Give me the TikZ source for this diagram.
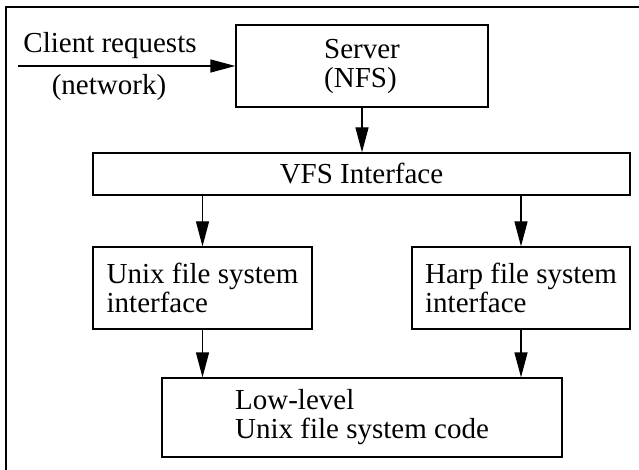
\documentclass[tikz,border=0pt]{standalone}
\usepackage{fontspec}
\setmainfont{Liberation Serif}
\usetikzlibrary{arrows.meta}
\tikzset{
  blk/.style={draw, line width=1.3pt, align=left, inner sep=0pt,
    font=\fontsize{29}{29}\selectfont},
  lbl/.style={anchor=base, inner sep=0pt, font=\fontsize{29}{29}\selectfont},
  flow/.style={line width=1.3pt, -{Triangle[length=25pt,width=13pt]}}
}

\begin{document}
\begin{tikzpicture}[x=1pt,y=-1pt]
    \useasboundingbox (0,0) rectangle (639,470);
    % frame
    \draw[line width=1.5pt] (6,470) -- (6,7) -- (639,7);
    \node[blk, minimum width=252pt, minimum height=82pt] (S) at (362,66) {Server\\(NFS)};
    \node[blk, minimum width=537pt, minimum height=42pt] (V) at (361.5,174) {VFS Interface};
    \node[blk, minimum width=219pt, minimum height=82pt] (U) at (202.5,288) {Unix file system\\interface};
    \node[blk, minimum width=218pt, minimum height=82pt] (H) at (521,288) {Harp file system\\interface};
    \node[blk, minimum width=400pt, minimum height=79pt] (L) at (362,417.5) {Low-level\\Unix file system code};
    \node[lbl] (C) at (110,53) {Client requests};
    \node[lbl] (N) at (109,95) {(network)};
    \coordinate (in) at (18,66);
    \path[flow] (in) edge (S.west);
    \path[flow] (S.south) edge (S.south |- V.north);
    \path[flow] (U.north |- V.south) edge (U.north);
    \path[flow] (H.north |- V.south) edge (H.north);
    \path[flow] (U.south) edge (U.south |- L.north);
    \path[flow] (H.south) edge (H.south |- L.north);
  \end{tikzpicture}
\end{document}
